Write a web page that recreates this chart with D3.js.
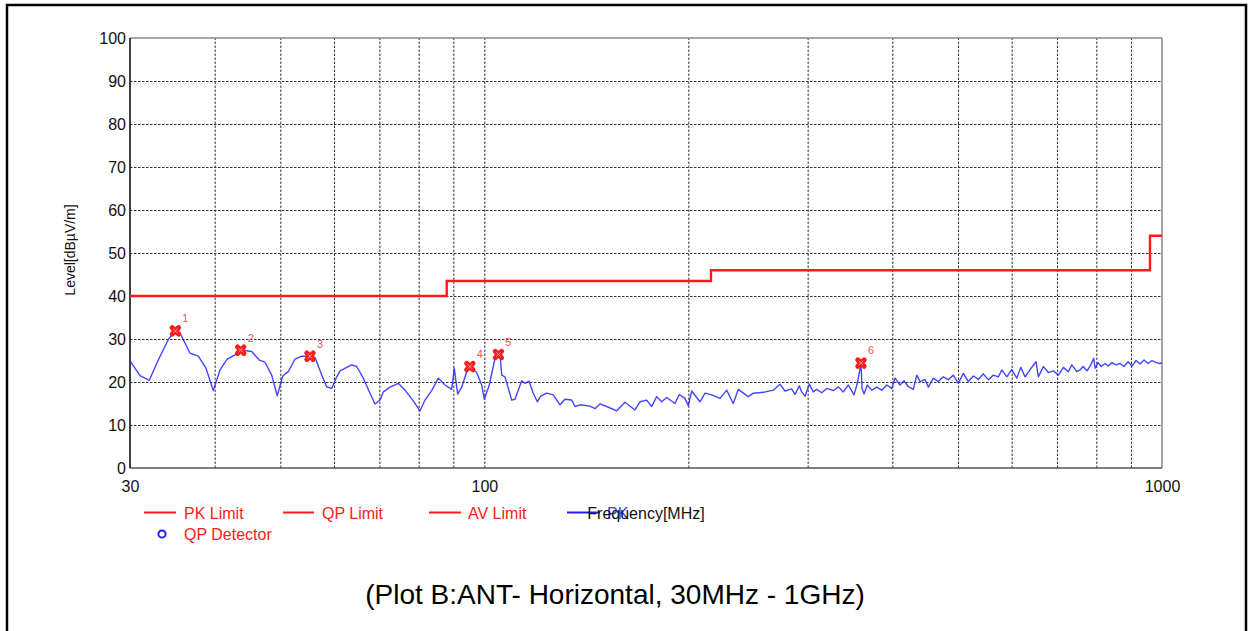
<!DOCTYPE html>
<html>
<head>
<meta charset="utf-8">
<script src="https://cdn.jsdelivr.net/npm/d3@7"></script>
<style>
  html, body { margin: 0; padding: 0; background: #fff; }
  svg { display: block; font-family: Arial, "Liberation Sans", sans-serif; }
</style>
</head>
<body>
<svg id="chart" width="1250" height="631"></svg>
<script>
// ---------- DATA ----------
const yTicks = [0, 10, 20, 30, 40, 50, 60, 70, 80, 90, 100];
const xTickLabels = [30, 100, 1000];
const xGrid = [40, 50, 60, 70, 80, 90, 100, 200, 300, 400, 500, 600, 700, 800, 900];

// limit line (step after)
const limitFreq = [30, 88, 216, 960, 1000];
const limitLevel = [40, 43.5, 46, 54, 54];

// peak trace
const traceFreq = [30.0,31.04,32.03,33.03,34.17,34.96,35.56,36.79,37.84,38.84,39.81,40.73,41.75,42.86,43.74,45.36,46.55,47.46,48.55,49.48,50.40,51.37,52.55,53.76,55.30,56.25,57.55,58.53,59.54,60.56,61.24,63.72,64.81,66.28,67.81,68.97,70.15,70.94,72.58,74.65,76.37,78.40,80.36,81.74,83.62,85.52,87.49,89.50,90.29,91.34,92.59,94.18,95.24,97.43,99.11,99.99,101.70,103.69,104.75,105.47,106.08,107.27,109.74,110.98,113.53,114.81,116.39,118.10,119.72,121.11,123.60,126.40,129.31,131.53,134.56,136.07,138.41,143.19,145.64,148.14,151.55,156.79,161.27,166.84,169.70,173.60,176.58,179.61,182.69,185.82,191.14,193.95,197.75,199.98,202.30,208.08,211.65,216.52,222.71,227.84,233.00,237.00,245.19,249.39,258.01,266.93,273.07,277.75,284.14,287.34,291.58,293.97,297.32,301.70,305.83,309.38,314.68,320.08,327.33,332.95,338.65,344.45,351.17,355.13,359.63,360.86,363.32,367.41,372.95,379.36,385.85,392.46,399.18,403.68,410.60,416.23,422.36,429.60,434.59,439.49,447.01,452.05,459.80,467.68,475.70,483.85,492.15,500.58,509.17,517.89,526.77,535.80,544.99,554.33,563.83,573.49,580.16,590.11,600.23,610.52,618.86,627.99,638.74,651.89,657.01,668.26,679.72,691.37,703.22,715.28,727.54,735.98,748.60,757.03,764.78,775.24,783.18,793.08,796.59,804.75,813.00,824.13,832.58,843.97,855.51,867.21,879.07,891.09,903.27,915.62,928.14,940.83,953.70,966.74,979.96,993.36,1000];
const traceLevel = [24.9,21.5,20.4,25.1,29.9,31.9,31.4,26.7,26.0,23.2,18.0,22.8,25.3,26.3,27.4,27.1,25.1,24.6,21.6,16.8,21.4,22.4,25.3,26.0,26.0,25.7,21.6,18.9,18.5,21.2,22.6,24.0,23.6,20.9,17.4,14.9,15.8,17.7,18.8,19.7,18.1,15.8,13.3,15.8,18.0,20.9,19.3,18.3,23.2,17.2,18.8,22.4,23.5,22.2,19.3,16.0,19.3,25.5,26.3,26.4,21.6,21.2,15.8,16.0,20.3,19.7,20.2,17.4,15.4,16.7,17.4,17.0,14.7,16.0,15.8,14.3,14.7,14.4,13.8,14.9,14.3,13.3,15.3,13.5,15.4,15.8,14.3,16.6,15.4,16.4,15.0,17.1,16.2,14.5,17.9,15.4,17.4,17.0,16.2,18.1,15.0,18.3,16.6,17.4,17.6,18.1,19.5,17.9,18.4,17.1,19.1,17.7,16.7,19.5,17.7,18.3,17.5,18.5,18.0,18.9,17.7,19.3,17.0,19.7,24.4,18.5,17.2,19.3,18.1,18.8,18.1,19.3,18.5,20.9,19.3,20.3,18.9,18.3,21.6,20.1,20.6,18.8,20.9,20.1,21.2,20.5,21.6,19.7,22.0,20.1,21.4,20.6,21.9,20.5,21.6,21.2,22.8,21.2,22.9,20.9,23.4,21.2,22.9,24.7,21.2,23.6,22.2,22.6,21.6,23.4,22.4,24.0,22.4,22.8,23.6,22.6,23.7,25.5,23.2,24.5,23.6,24.3,23.7,24.5,24.0,24.3,23.6,24.7,23.7,25.0,24.2,25.1,24.3,25.0,24.5,24.3,24.5];

// marked peaks
const markerFreq = [35.0, 43.7, 55.3, 95.2, 104.9, 359.6];
const markerLevel = [31.9, 27.4, 26.0, 23.6, 26.4, 24.4];
const markerLabel = ["1", "2", "3", "4", "5", "6"];

// legend
const legendLabels = ["PK Limit", "QP Limit", "AV Limit", "PK", "QP Detector"];
const titleText = "(Plot B:ANT- Horizontal, 30MHz - 1GHz)";
const yAxisTitle = "Level[dB\u00B5V/m]";
const xAxisTitle = "Frequency[MHz]";

// ---------- DRAW ----------
const svg = d3.select("#chart");
const L = 130, R = 1162, T = 38, B = 468;
const x = d3.scaleLog().domain([30, 1000]).range([L, R]);
const y = d3.scaleLinear().domain([0, 100]).range([B, T]);

// outer frame
svg.append("rect").attr("x", 7).attr("y", 5).attr("width", 1239).attr("height", 640)
  .attr("fill", "none").attr("stroke", "#000").attr("stroke-width", 2.5);

// horizontal grid
const gy = svg.append("g").attr("transform", `translate(${L},0)`)
  .call(d3.axisLeft(y).tickValues(yTicks.slice(1, -1)).tickSize(-(R - L)).tickFormat(""));
gy.select(".domain").remove();
gy.selectAll("line").attr("stroke", "#333").attr("stroke-dasharray", "2.5,1.5").attr("stroke-width", 1);

// vertical grid
const gx = svg.append("g").attr("transform", `translate(0,${B})`)
  .call(d3.axisBottom(x).tickValues(xGrid).tickSize(-(B - T)).tickFormat(""));
gx.select(".domain").remove();
gx.selectAll("line").attr("stroke", "#333").attr("stroke-dasharray", "2.5,1.5").attr("stroke-width", 1);

// plot frame
svg.append("line").attr("x1", L).attr("x2", R).attr("y1", T).attr("y2", T).attr("stroke", "#888").attr("stroke-width", 1.5);
svg.append("line").attr("x1", R).attr("x2", R).attr("y1", T).attr("y2", B).attr("stroke", "#888").attr("stroke-width", 1.5);
svg.append("line").attr("x1", L).attr("x2", R).attr("y1", B).attr("y2", B).attr("stroke", "#555").attr("stroke-width", 1.5);
svg.append("line").attr("x1", L).attr("x2", L).attr("y1", T).attr("y2", B).attr("stroke", "#000").attr("stroke-width", 1.5);

// y axis labels
const ya = svg.append("g").attr("transform", `translate(${L},0)`)
  .call(d3.axisLeft(y).tickValues(yTicks).tickSize(0).tickPadding(4));
ya.select(".domain").remove();
ya.selectAll("text").attr("font-size", 16).attr("fill", "#111").attr("font-family", "Arial, 'Liberation Sans', sans-serif");

// x axis labels
const xa = svg.append("g").attr("transform", `translate(0,${B})`)
  .call(d3.axisBottom(x).tickValues(xTickLabels).tickFormat(d3.format("d")).tickSize(0).tickPadding(13));
xa.select(".domain").remove();
xa.selectAll("text").attr("font-size", 16).attr("fill", "#111").attr("font-family", "Arial, 'Liberation Sans', sans-serif");

// y axis title
svg.append("text").attr("transform", "translate(75,250) rotate(-90)")
  .attr("text-anchor", "middle").attr("font-size", 14).attr("fill", "#111").text(yAxisTitle);

// limit line
const limitData = limitFreq.map((f, i) => [f, limitLevel[i]]);
svg.append("path").datum(limitData)
  .attr("d", d3.line().x(d => x(d[0])).y(d => y(d[1])).curve(d3.curveStepAfter))
  .attr("fill", "none").attr("stroke", "#ff1a1a").attr("stroke-width", 2.4);

// trace
const traceData = traceFreq.map((f, i) => [f, traceLevel[i]]);
svg.append("path").datum(traceData)
  .attr("d", d3.line().x(d => x(d[0])).y(d => y(d[1])))
  .attr("fill", "none").attr("stroke", "#2424ff").attr("stroke-opacity", 0.85)
  .attr("stroke-width", 1.4).attr("stroke-linejoin", "round");

// markers
const mg = svg.append("g");
markerFreq.forEach((f, i) => {
  const cx = x(f), cy = y(markerLevel[i]);
  const g = mg.append("g").attr("transform", `translate(${cx},${cy})`);
  const s = 3.2;
  g.append("path").attr("d", `M${-s},${-s}L${s},${s}M${-s},${s}L${s},${-s}`)
    .attr("stroke", "#ff1a1a").attr("stroke-width", 5).attr("stroke-linecap", "round");
  g.append("path").attr("d", `M${-s + 1},${-s + 1}L${s - 1},${s - 1}M${-s + 1},${s - 1}L${s - 1},${-s + 1}`)
    .attr("stroke", "#ff9a9a").attr("stroke-width", 1);
  mg.append("text").attr("x", cx + 10).attr("y", cy - 12.5).attr("dy", "0.35em")
    .attr("text-anchor", "middle").attr("font-size", 11).attr("fill", "#ff5050").text(markerLabel[i]);
});

// legend
const legendRow1 = [
  { x1: 144, x2: 176, tx: 184, color: "#ff1a1a", tcolor: "#ff2020", label: legendLabels[0] },
  { x1: 283, x2: 314, tx: 322, color: "#ff1a1a", tcolor: "#ff2020", label: legendLabels[1] },
  { x1: 429, x2: 461, tx: 468, color: "#ff1a1a", tcolor: "#ff2020", label: legendLabels[2] },
  { x1: 567, x2: 600, tx: 607, color: "#2020ff", tcolor: "#3a3aff", label: legendLabels[3] }
];
const lg = svg.append("g");
legendRow1.forEach(d => {
  lg.append("line").attr("x1", d.x1).attr("x2", d.x2).attr("y1", 512.5).attr("y2", 512.5)
    .attr("stroke", d.color).attr("stroke-width", 2);
  lg.append("text").attr("x", d.tx).attr("y", 513).attr("dy", "0.35em")
    .attr("font-size", 16).attr("fill", d.tcolor).text(d.label);
});
lg.append("circle").attr("cx", 162).attr("cy", 534).attr("r", 3.6)
  .attr("fill", "none").attr("stroke", "#2020ff").attr("stroke-width", 2);
lg.append("text").attr("x", 184).attr("y", 534).attr("dy", "0.35em")
  .attr("font-size", 16).attr("fill", "#ff2020").text(legendLabels[4]);

// x axis title (overlapping legend, as in original)
svg.append("text").attr("x", 646).attr("y", 513).attr("dy", "0.35em").attr("text-anchor", "middle")
  .attr("font-size", 16).attr("fill", "#111").text(xAxisTitle);

// caption
svg.append("text").attr("x", 615).attr("y", 604).attr("text-anchor", "middle")
  .attr("font-size", 28).attr("fill", "#000").text(titleText);
</script>
</body>
</html>
